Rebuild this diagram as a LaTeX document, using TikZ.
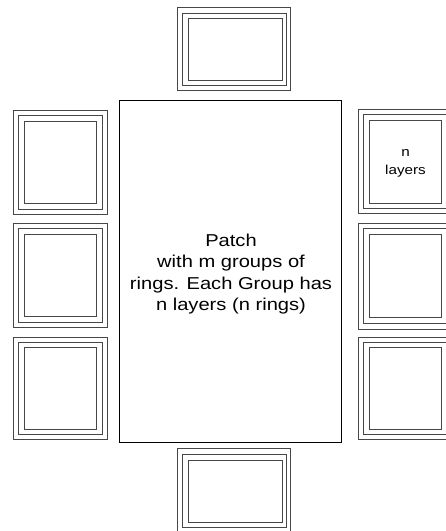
\documentclass[tikz,border=0pt]{standalone}
\usepackage{fontspec}
\newfontfamily\lbsans[FakeStretch=1.17]{Liberation Sans}
\newcommand\rectnode[6]{% style, name, x1, y1, x2, y2
  \pgfmathsetmacro\rw{#5-#3}\pgfmathsetmacro\rh{#6-#4}%
  \pgfmathsetmacro\rx{(#3+#5)/2}\pgfmathsetmacro\ry{(#4+#6)/2}%
  \node[#1, minimum width=\rw pt, minimum height=\rh pt] (#2) at (\rx,\ry) {};}
\begin{document}
\begin{tikzpicture}[x=1pt,y=-1pt,
  ring/.style={draw=black!72, line width=1pt, inner sep=0pt, outer sep=0pt, rectangle},
  patch/.style={draw=black, line width=1pt, inner sep=0pt, outer sep=0pt, rectangle},
  bigtext/.style={font=\lbsans\fontsize{17.2}{21.5}\selectfont, align=center, inner sep=0pt},
  smalltext/.style={font=\lbsans\fontsize{13}{17.3}\selectfont, align=center, inner sep=0pt}]
\useasboundingbox (0,0) rectangle (446,531);
\clip (0,0) rectangle (446,531);
% top box
\rectnode{ring}{topo}{177}{7}{290}{90}
\rectnode{ring}{topm}{182.5}{13}{286.5}{85}
\rectnode{ring}{topi}{188.5}{18.5}{282.5}{80}
% bottom box
\rectnode{ring}{boto}{177}{448}{290}{532}
\rectnode{ring}{botm}{182.5}{454}{286.5}{527}
\rectnode{ring}{boti}{188.5}{460}{282.5}{522}
% left boxes
\rectnode{ring}{l1o}{13}{110}{107}{214}
\rectnode{ring}{l1m}{18}{115}{102}{209}
\rectnode{ring}{l1i}{24}{121}{96}{203}
\rectnode{ring}{l2o}{13}{223.5}{107}{327}
\rectnode{ring}{l2m}{18}{228.5}{102}{322}
\rectnode{ring}{l2i}{24}{234.5}{96}{316.5}
\rectnode{ring}{l3o}{13}{337}{107}{439}
\rectnode{ring}{l3m}{18}{342}{102}{434.5}
\rectnode{ring}{l3i}{24}{347.5}{96}{429}
% right boxes
\rectnode{ring}{r1o}{358}{109.5}{452}{213.5}
\rectnode{ring}{r1m}{363}{114.5}{447}{208.5}
\rectnode{ring}{r1i}{369.5}{120.5}{441.5}{203}
\rectnode{ring}{r2o}{358}{223}{452}{329}
\rectnode{ring}{r2m}{363}{228.5}{447}{323}
\rectnode{ring}{r2i}{369.5}{234}{441.5}{317}
\rectnode{ring}{r3o}{358}{337}{452}{439}
\rectnode{ring}{r3m}{363}{342}{447}{434.5}
\rectnode{ring}{r3i}{369.5}{347.5}{441.5}{429}
% main patch
\rectnode{patch}{patch}{119}{100.5}{341}{442.3}
\node[bigtext] (patchtext) at (231,274) {Patch\\with m groups of\\rings. Each Group has\\n layers (n rings)};
\node[smalltext] (ntext) at (405.5,163.3) {n\\layers};
\end{tikzpicture}
\end{document}
